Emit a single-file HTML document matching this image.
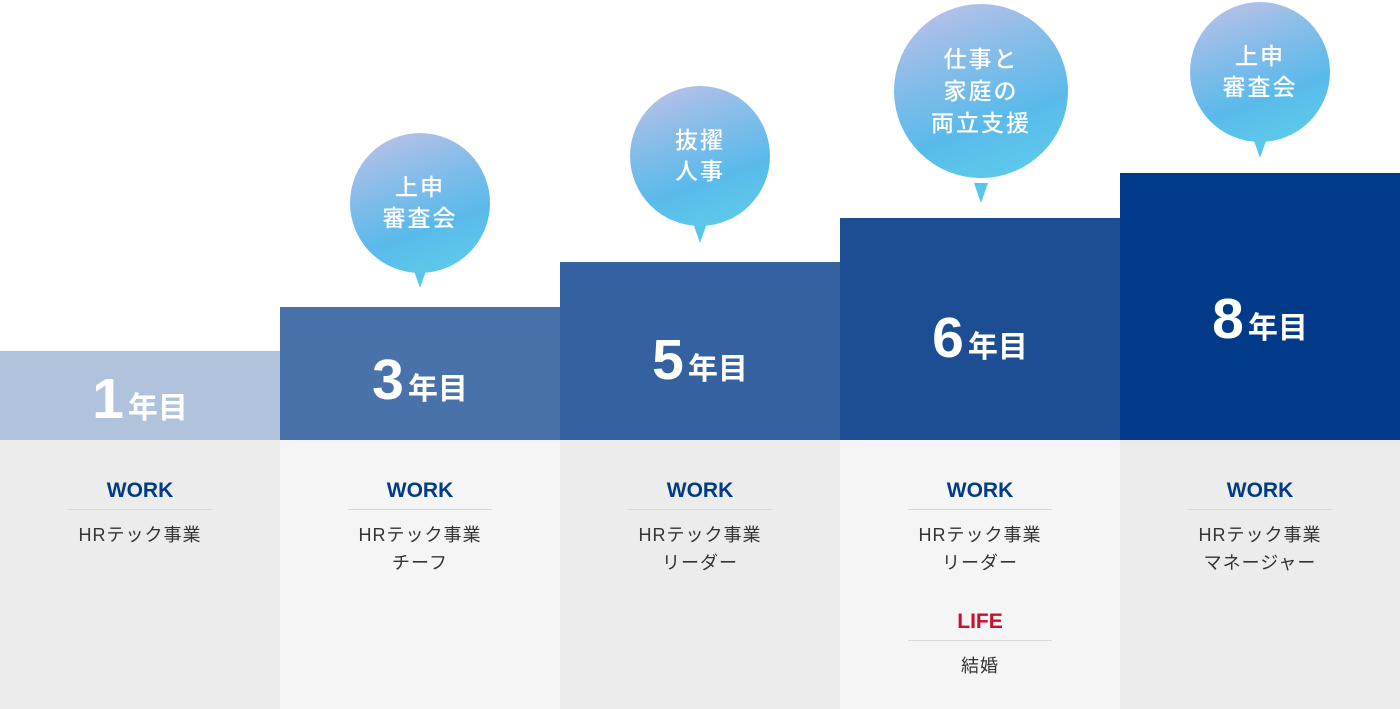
<!DOCTYPE html>
<html><head><meta charset="utf-8"><style>
body{margin:0;width:1400px;height:709px;position:relative;overflow:hidden;background:#fff;font-family:"Liberation Sans","Noto Sans CJK JP",sans-serif}
.col{position:absolute;top:440px;width:280px;height:269px}
.bar{position:absolute;width:280px}
.num{position:absolute;width:280px;text-align:center;color:#fff;font-weight:bold;line-height:1}
.num b{font-size:57px;margin-right:4px}
.num span{font-size:30px}
.t{position:absolute;width:280px;text-align:center;line-height:1}
.w{font-size:21px;font-weight:bold;color:#003a88}
.l{font-size:21px;font-weight:bold;color:#c8102e}
.hr{position:absolute;height:1px;background:#d8d8d8;width:144px}
.j{font-size:18px;color:#333;letter-spacing:1px}
.bub{position:absolute;border-radius:50%;background:linear-gradient(160deg,#c4c3e8 0%,#8fbde9 30%,#59baea 65%,#5fcfea 100%);color:#fff;font-weight:500;text-align:center;display:flex;align-items:center;justify-content:center;letter-spacing:2px}
.tail{position:absolute;width:0;height:0;border-left:7px solid transparent;border-right:7px solid transparent;border-top:20px solid #56c6ea}
</style></head><body>
<div class="col" style="left:0;background:#ececec"></div>
<div class="col" style="left:280px;background:#f5f5f5"></div>
<div class="col" style="left:560px;background:#ececec"></div>
<div class="col" style="left:840px;background:#f5f5f5"></div>
<div class="col" style="left:1120px;background:#ececec"></div>

<div class="bar" style="left:0;top:351px;height:89px;background:#b1c3dc"></div>
<div class="bar" style="left:280px;top:307px;height:133px;background:#4a72aa"></div>
<div class="bar" style="left:560px;top:262px;height:178px;background:#3461a0"></div>
<div class="bar" style="left:840px;top:218px;height:222px;background:#1d4e94"></div>
<div class="bar" style="left:1120px;top:173px;height:267px;background:#003a88"></div>

<div class="num" style="left:0;top:371px"><b>1</b><span>年目</span></div>
<div class="num" style="left:280px;top:352px"><b>3</b><span>年目</span></div>
<div class="num" style="left:560px;top:332px"><b>5</b><span>年目</span></div>
<div class="num" style="left:840px;top:310px"><b>6</b><span>年目</span></div>
<div class="num" style="left:1120px;top:291px"><b>8</b><span>年目</span></div>

<div class="t w" style="left:0;top:480px">WORK</div><div class="hr" style="left:68px;top:509px"></div>
<div class="t j" style="left:0;top:526px">HRテック事業</div>
<div class="t w" style="left:280px;top:480px">WORK</div><div class="hr" style="left:348px;top:509px"></div>
<div class="t j" style="left:280px;top:526px">HRテック事業</div><div class="t j" style="left:280px;top:554px">チーフ</div>
<div class="t w" style="left:560px;top:480px">WORK</div><div class="hr" style="left:628px;top:509px"></div>
<div class="t j" style="left:560px;top:526px">HRテック事業</div><div class="t j" style="left:560px;top:554px">リーダー</div>
<div class="t w" style="left:840px;top:480px">WORK</div><div class="hr" style="left:908px;top:509px"></div>
<div class="t j" style="left:840px;top:526px">HRテック事業</div><div class="t j" style="left:840px;top:554px">リーダー</div>
<div class="t l" style="left:840px;top:611px">LIFE</div><div class="hr" style="left:908px;top:640px"></div>
<div class="t j" style="left:840px;top:657px">結婚</div>
<div class="t w" style="left:1120px;top:480px">WORK</div><div class="hr" style="left:1188px;top:509px"></div>
<div class="t j" style="left:1120px;top:526px">HRテック事業</div><div class="t j" style="left:1120px;top:554px">マネージャー</div>

<div class="tail" style="left:413px;top:268px"></div>
<div class="bub" style="left:350px;top:133px;width:140px;height:140px;font-size:23px;line-height:31px">上申<br>審査会</div>
<div class="tail" style="left:693px;top:223px"></div>
<div class="bub" style="left:630px;top:86px;width:140px;height:140px;font-size:23px;line-height:31px">抜擢<br>人事</div>
<div class="tail" style="left:974px;top:183px"></div>
<div class="bub" style="left:894px;top:4px;width:174px;height:174px;font-size:23px;line-height:32px">仕事と<br>家庭の<br>両立支援</div>
<div class="tail" style="left:1253px;top:138px"></div>
<div class="bub" style="left:1190px;top:2px;width:140px;height:140px;font-size:23px;line-height:31px">上申<br>審査会</div>
</body></html>
